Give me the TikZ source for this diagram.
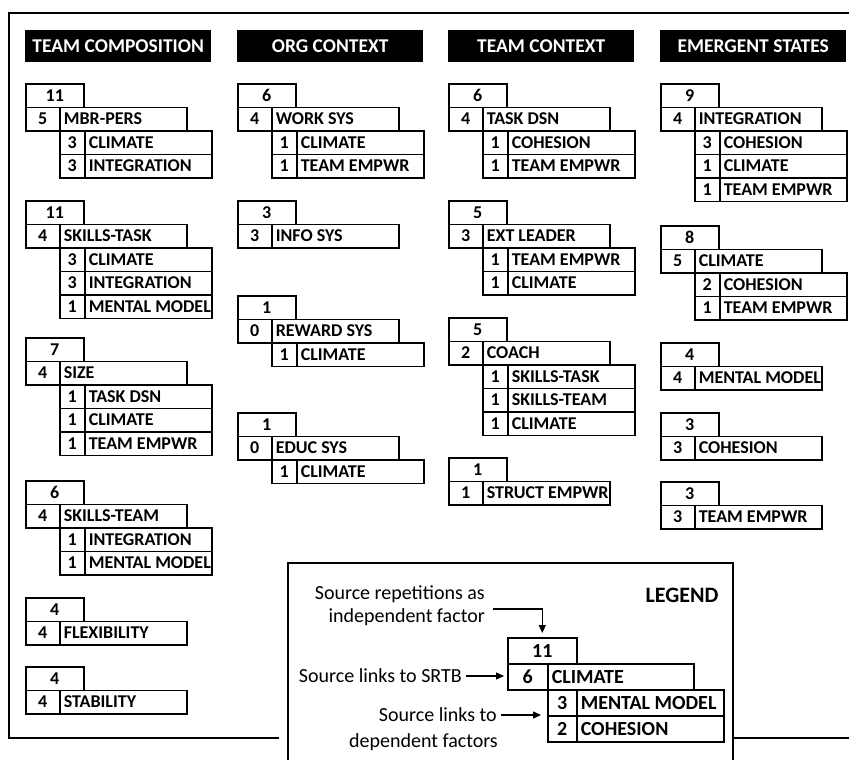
\documentclass[tikz,border=0pt]{standalone}
\usepackage{fontspec}
\setmainfont{Carlito}
\usetikzlibrary{arrows.meta}
\newcommand\rh{23.5}
\tikzset{
  cellbase/.style={draw, line width=1.6pt, inner sep=0pt, anchor=north west,
    minimum height=\rh pt, text height=11.6pt, text depth=0pt,
    font=\fontsize{18}{20}\selectfont\bfseries},
  numcell/.style={cellbase, align=center},
  namecell/.style={cellbase, inner xsep=4pt},
  headbox/.style={fill=black, text=white, anchor=north west, inner sep=0pt,
    minimum width=186pt, minimum height=32pt,
    font=\fontsize{19.5}{22}\selectfont\bfseries},
  lgcell/.style={draw, line width=1.6pt, inner sep=0pt, anchor=north west,
    minimum height=26pt, text height=12.8pt, text depth=0pt,
    font=\fontsize{20}{22}\selectfont\bfseries},
  lgname/.style={lgcell, inner xsep=4pt},
  lgtext/.style={font=\fontsize{20}{22}\selectfont, inner sep=4pt},
  arr/.style={line width=1.4pt, -{Triangle[length=8pt,width=7pt]}},
  frame/.style={line width=1.6pt}
}
% group macros
\newcommand\gtop[4]{\node[numcell, minimum width=58pt] (#1t) at (#2,#3) {#4};}
\newcommand\gmain[5]{%
  \node[numcell, minimum width=34pt] (#1n) at (#2,{#3+\rh}) {#4};
  \node[namecell] (#1m) at ({#2+34},{#3+\rh}) {\makebox[119pt][l]{#5}};}
\newcommand\gsub[6]{%
  \node[numcell, minimum width=25pt] (#1n#4) at ({#2+34},{#3+(#4+1)*\rh}) {#5};
  \node[namecell] (#1m#4) at ({#2+59},{#3+(#4+1)*\rh}) {\makebox[119pt][l]{#6}};}
\begin{document}
\begin{tikzpicture}[x=1pt,y=-1pt]
\useasboundingbox (0,0) rectangle (849,760);
% frame
\draw[frame] (279,738) -- (9,738) -- (9,13) -- (849,13);
\draw[frame] (733,738) -- (849,738);
\draw[frame] (288,760) -- (288,563) -- (733,563) -- (733,760);
% headers
\node[headbox] (h1) at (25,30) {TEAM COMPOSITION};
\node[headbox] (h2) at (237,30) {ORG CONTEXT};
\node[headbox] (h3) at (448,30) {TEAM CONTEXT};
\node[headbox] (h4) at (660,30) {EMERGENT STATES};
% TEAM COMPOSITION
\gtop{a1}{25}{83}{11}\gmain{a1}{25}{83}{5}{MBR-PERS}
\gsub{a1}{25}{83}{1}{3}{CLIMATE}\gsub{a1}{25}{83}{2}{3}{INTEGRATION}
\gtop{a2}{25}{200}{11}\gmain{a2}{25}{200}{4}{SKILLS-TASK}
\gsub{a2}{25}{200}{1}{3}{CLIMATE}\gsub{a2}{25}{200}{2}{3}{INTEGRATION}
\gsub{a2}{25}{200}{3}{1}{MENTAL MODEL}
\gtop{a3}{25}{337}{7}\gmain{a3}{25}{337}{4}{SIZE}
\gsub{a3}{25}{337}{1}{1}{TASK DSN}\gsub{a3}{25}{337}{2}{1}{CLIMATE}
\gsub{a3}{25}{337}{3}{1}{TEAM EMPWR}
\gtop{a4}{25}{480}{6}\gmain{a4}{25}{480}{4}{SKILLS-TEAM}
\gsub{a4}{25}{480}{1}{1}{INTEGRATION}\gsub{a4}{25}{480}{2}{1}{MENTAL MODEL}
\gtop{a5}{25}{597}{4}\gmain{a5}{25}{597}{4}{FLEXIBILITY}
\gtop{a6}{25}{666}{4}\gmain{a6}{25}{666}{4}{STABILITY}
% ORG CONTEXT
\gtop{b1}{237}{83}{6}\gmain{b1}{237}{83}{4}{WORK SYS}
\gsub{b1}{237}{83}{1}{1}{CLIMATE}\gsub{b1}{237}{83}{2}{1}{TEAM EMPWR}
\gtop{b2}{237}{200}{3}\gmain{b2}{237}{200}{3}{INFO SYS}
\gtop{b3}{237}{295}{1}\gmain{b3}{237}{295}{0}{REWARD SYS}
\gsub{b3}{237}{295}{1}{1}{CLIMATE}
\gtop{b4}{237}{412}{1}\gmain{b4}{237}{412}{0}{EDUC SYS}
\gsub{b4}{237}{412}{1}{1}{CLIMATE}
% TEAM CONTEXT
\gtop{c1}{448}{83}{6}\gmain{c1}{448}{83}{4}{TASK DSN}
\gsub{c1}{448}{83}{1}{1}{COHESION}\gsub{c1}{448}{83}{2}{1}{TEAM EMPWR}
\gtop{c2}{448}{200}{5}\gmain{c2}{448}{200}{3}{EXT LEADER}
\gsub{c2}{448}{200}{1}{1}{TEAM EMPWR}\gsub{c2}{448}{200}{2}{1}{CLIMATE}
\gtop{c3}{448}{317}{5}\gmain{c3}{448}{317}{2}{COACH}
\gsub{c3}{448}{317}{1}{1}{SKILLS-TASK}\gsub{c3}{448}{317}{2}{1}{SKILLS-TEAM}
\gsub{c3}{448}{317}{3}{1}{CLIMATE}
\gtop{c4}{448}{457}{1}\gmain{c4}{448}{457}{1}{STRUCT EMPWR}
% EMERGENT STATES
\gtop{d1}{660}{83}{9}\gmain{d1}{660}{83}{4}{INTEGRATION}
\gsub{d1}{660}{83}{1}{3}{COHESION}\gsub{d1}{660}{83}{2}{1}{CLIMATE}
\gsub{d1}{660}{83}{3}{1}{TEAM EMPWR}
\gtop{d2}{660}{225}{8}\gmain{d2}{660}{225}{5}{CLIMATE}
\gsub{d2}{660}{225}{1}{2}{COHESION}\gsub{d2}{660}{225}{2}{1}{TEAM EMPWR}
\gtop{d3}{660}{342}{4}\gmain{d3}{660}{342}{4}{MENTAL MODEL}
\gtop{d4}{660}{412}{3}\gmain{d4}{660}{412}{3}{COHESION}
\gtop{d5}{660}{481}{3}\gmain{d5}{660}{481}{3}{TEAM EMPWR}
% LEGEND
\node[font=\fontsize{22}{24}\selectfont\bfseries, anchor=east] (lgt) at (722,595) {LEGEND};
\node[lgcell, minimum width=69pt] (lt) at (507,637) {11};
\node[lgcell, minimum width=40pt] (ln) at (507,663) {6};
\node[lgname] (lm) at (547,663) {\makebox[138pt][l]{CLIMATE}};
\node[lgcell, minimum width=29pt] (ln1) at (547,689) {3};
\node[lgname] (lm1) at (576,689) {\makebox[139pt][l]{MENTAL MODEL}};
\node[lgcell, minimum width=29pt] (ln2) at (547,715) {2};
\node[lgname] (lm2) at (576,715) {\makebox[139pt][l]{COHESION}};
\node[lgtext, anchor=east] (s1a) at (489,594) {Source repetitions as};
\node[lgtext, anchor=east] (s1b) at (489,617) {independent factor};
\node[lgtext, anchor=east] (s2) at (466,676) {Source links to SRTB};
\node[lgtext, anchor=east] (s3) at (501,715) {Source links to};
\node[lgtext, anchor=east] (s3b) at (502,742) {dependent factors};
\draw[arr] ([xshift=4pt,yshift=8pt]s1b.east) -| ([yshift=4pt]lt.north);
\draw[arr] (s2.east) -- ([xshift=-3pt]s2.east -| ln.west);
\draw[arr] (s3.east) -- ([xshift=-6pt]s3.east -| ln1.west);
\end{tikzpicture}
\end{document}
